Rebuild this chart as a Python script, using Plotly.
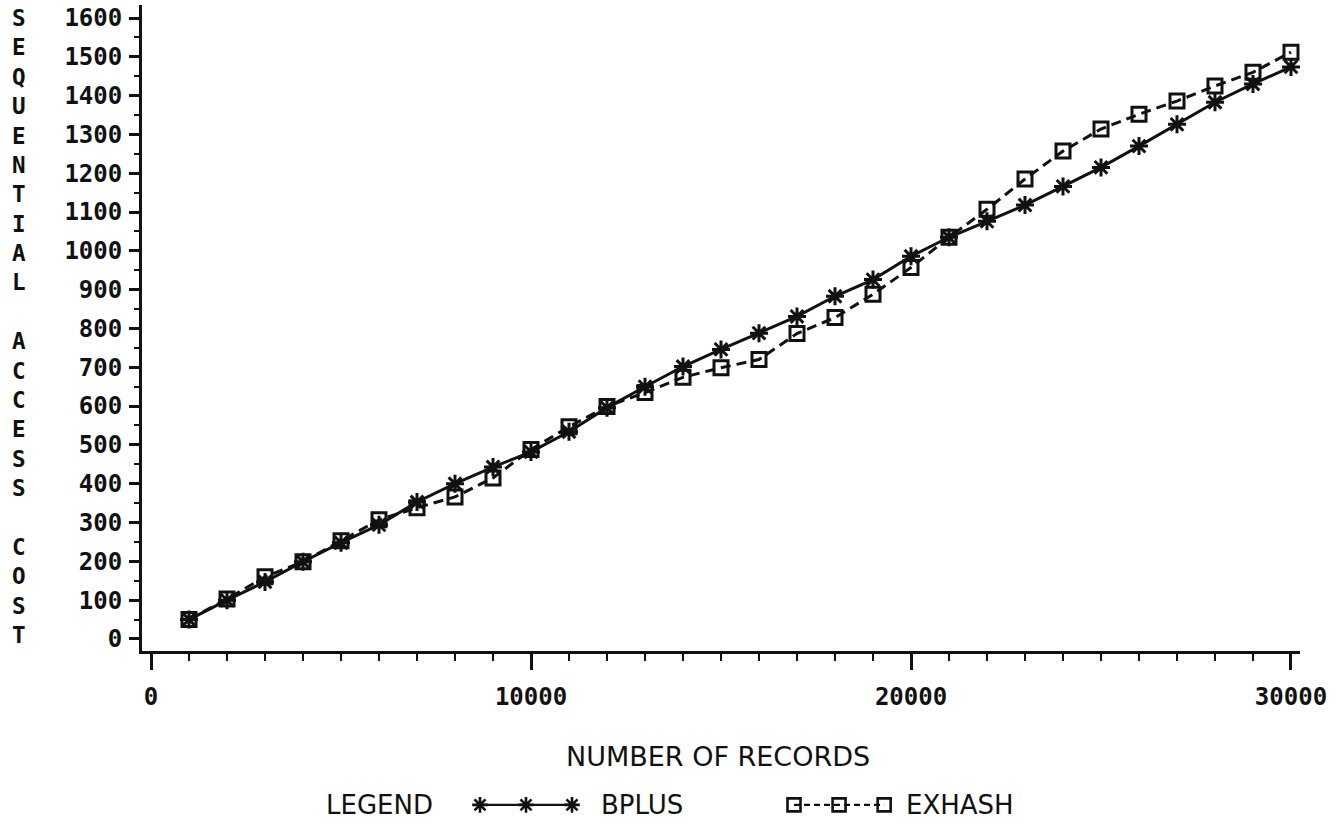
import plotly.graph_objects as go

# Number of records per test run
records = list(range(1000, 31000, 1000))

# Sequential access cost for each file organisation
bplus = [50, 100, 147, 199, 248, 294, 353, 400, 443, 482,
         534, 596, 650, 702, 746, 788, 831, 883, 926, 986,
         1035, 1076, 1118, 1166, 1215, 1270, 1326, 1383, 1430, 1474]
exhash = [50, 103, 160, 199, 253, 307, 338, 366, 415, 488,
          547, 599, 635, 674, 699, 720, 787, 828, 888, 957,
          1035, 1107, 1185, 1257, 1314, 1352, 1386, 1425, 1460, 1512]

x_tick_vals = [0, 10000, 20000, 30000]
y_tick_vals = list(range(0, 1700, 100))

y_title = "SEQUENTIAL ACCESS COST"
x_title = "NUMBER OF RECORDS"

MONO = "DejaVu Sans Mono"
SANS = "DejaVu Sans"
INK = "#111111"

fig = go.Figure()

fig.add_trace(go.Scatter(
    x=records, y=bplus, name="BPLUS", mode="lines+markers",
    line=dict(color=INK, width=3),
    marker=dict(symbol="asterisk-open", size=15, color=INK,
                line=dict(color=INK, width=3)),
))
fig.add_trace(go.Scatter(
    x=records, y=exhash, name="EXHASH", mode="lines+markers",
    line=dict(color=INK, width=3, dash="10px,6px"),
    marker=dict(symbol="square-open", size=14, color=INK,
                line=dict(color=INK, width=3)),
))

# Legend key drawn on its own strip of axes below the chart
key_x = [0, 46, 92]
fig.add_trace(go.Scatter(
    x=[338 + k for k in key_x], y=[0, 0, 0], xaxis="x2", yaxis="y2",
    mode="lines+markers", showlegend=False, hoverinfo="skip",
    line=dict(color=INK, width=2.4),
    marker=dict(symbol="asterisk-open", size=13, color=INK,
                line=dict(color=INK, width=2.6)),
))
fig.add_trace(go.Scatter(
    x=[652 + k * 0.98 for k in key_x], y=[0, 0, 0], xaxis="x2", yaxis="y2",
    mode="lines+markers", showlegend=False, hoverinfo="skip",
    line=dict(color=INK, width=2.4, dash="6px,4px"),
    marker=dict(symbol="square-open", size=13, color=INK,
                line=dict(color=INK, width=2.6)),
))

tick_font = dict(family=MONO, size=24, color=INK, weight="bold")

fig.update_layout(
    width=1342, height=829,
    margin=dict(l=142, r=42, t=5, b=14),
    paper_bgcolor="white", plot_bgcolor="white",
    showlegend=False,
    xaxis=dict(
        range=[-237, 30237], showgrid=False, zeroline=False,
        showline=True, linecolor=INK, linewidth=3,
        tickmode="array", tickvals=x_tick_vals,
        ticktext=[str(v) for v in x_tick_vals],
        ticks="outside", ticklen=16, tickwidth=2.5, tickcolor=INK,
        tickfont=tick_font, ticklabelstandoff=6,
        minor=dict(dtick=1000, tick0=0, ticks="outside", ticklen=7,
                   tickwidth=2, tickcolor=INK, showgrid=False),
        anchor="y",
    ),
    yaxis=dict(
        domain=[0.2025, 1], range=[-31, 1633.5],
        showgrid=False, zeroline=False,
        showline=True, linecolor=INK, linewidth=3,
        tickmode="array", tickvals=y_tick_vals,
        ticktext=[str(v) for v in y_tick_vals],
        ticks="outside", ticklen=10, tickwidth=2.5, tickcolor=INK,
        tickfont=tick_font, ticklabelstandoff=2,
        minor=dict(dtick=50, tick0=0, ticks="outside", ticklen=5,
                   tickwidth=2, tickcolor=INK, showgrid=False),
        anchor="x",
    ),
    xaxis2=dict(domain=[0, 1], range=[0, 1158], visible=False,
                anchor="y2", fixedrange=True),
    yaxis2=dict(domain=[0, 0.025], range=[-1, 1], visible=False,
                anchor="x2", fixedrange=True),
)

# Vertical, letter-stacked y-axis title
stacked = "<br>".join(ch if ch != " " else "&nbsp;" for ch in y_title)
fig.add_annotation(
    text=stacked, xref="paper", yref="paper",
    x=(19 - 142) / 1158, y=(815 - 327) / 810,
    xanchor="center", yanchor="middle", showarrow=False, align="center",
    font=dict(family=MONO, size=22.6, color=INK, weight="bold"),
)

fig.add_annotation(
    text=x_title, xref="paper", yref="paper",
    x=(718 - 142) / 1158, y=(815 - 756) / 810,
    xanchor="center", yanchor="middle", showarrow=False,
    font=dict(family=SANS, size=27, color=INK),
)

legend_font = dict(family=SANS, size=26, color=INK)
fig.add_annotation(text="LEGEND", xref="x2", yref="y2", x=237, y=0,
                   xanchor="center", yanchor="middle", showarrow=False,
                   font=legend_font)
fig.add_annotation(text="BPLUS", xref="x2", yref="y2", x=457, y=0,
                   xanchor="left", yanchor="middle", showarrow=False,
                   font=legend_font)
fig.add_annotation(text="EXHASH", xref="x2", yref="y2", x=762, y=0,
                   xanchor="left", yanchor="middle", showarrow=False,
                   font=legend_font)

fig.write_html("out.html")
